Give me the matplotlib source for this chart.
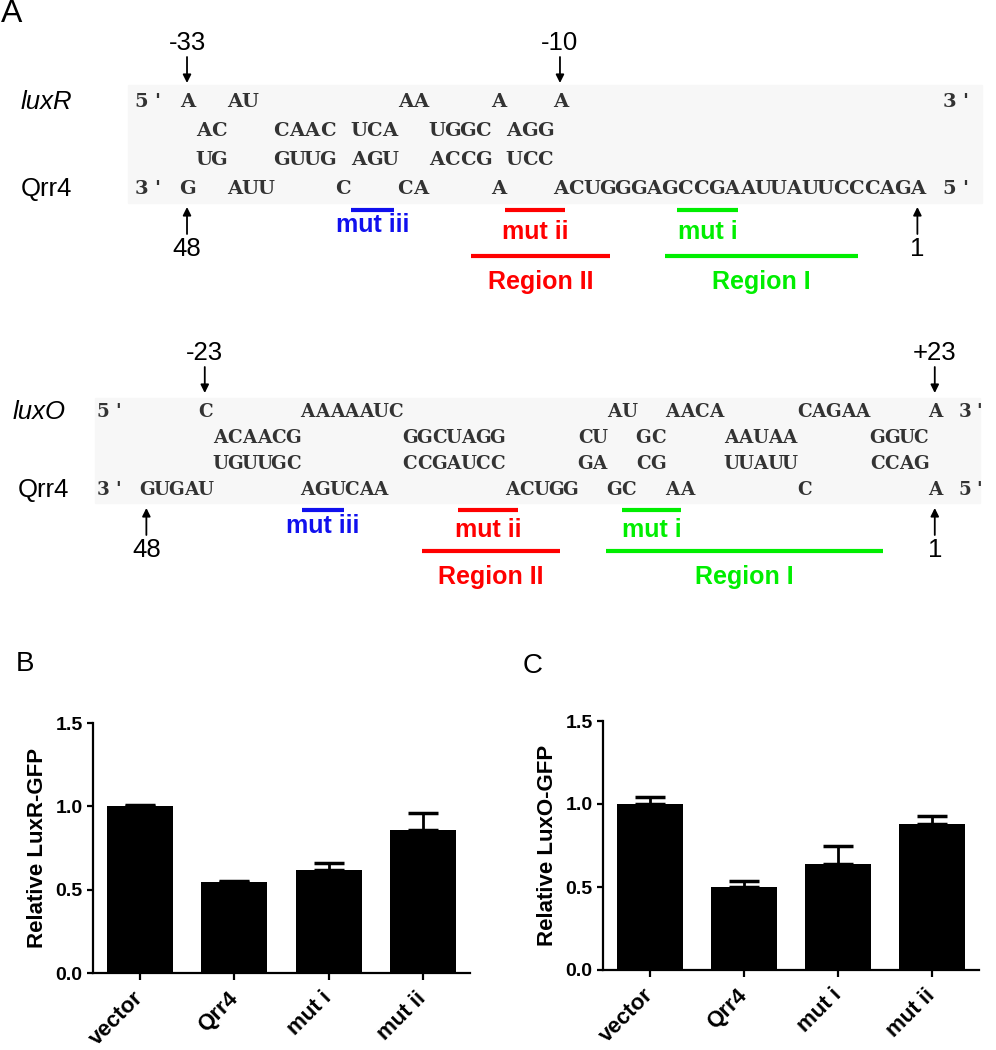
import numpy as np
import matplotlib.pyplot as plt
from matplotlib.patches import Rectangle
from matplotlib.transforms import ScaledTranslation

plt.rcParams['font.family'] = ['Liberation Sans', 'DejaVu Sans']

# ---- panel A data: pairing rows written as column-aligned strings
luxR_rows = [
    "5' A  AU         AA    A   A                        3'",
    "    AC   CAAC UCA  UGGC AGG",
    "    UG   GUUG AGU  ACCG UCC",
    "3' G  AUU    C   CA    A   ACUGGGAGCCGAAUUAUUCCCAGA 5'",
]
luxO_rows = [
    "5'     C      AAAAAUC              AU  AACA     CAGAA    A 3'",
    "        ACAACG       GGCUAGG     CU  GC    AAUAA     GGUC",
    "        UGUUGC       CCGAUCC     GA  CG    UUAUU     CCAG",
    "3' GUGAU      AGUCAA        ACUGG  GC  AA       C        A 5'",
]
# numbered positions: (label, column, above/below)
luxR_marks = [("-33", 3, "top"), ("-10", 27, "top"), ("48", 3, "bottom"), ("1", 50, "bottom")]
luxO_marks = [("-23", 7, "top"), ("+23", 57, "top"), ("48", 3, "bottom"), ("1", 57, "bottom")]

mut_names = ["mut iii", "mut ii", "mut i"]
region_names = ["Region II", "Region I"]
# spans in sequence columns
luxR_mut_cols = [(14.0, 16.8), (23.9, 27.8), (35.0, 38.9)]
luxR_region_cols = [(21.7, 30.7), (34.2, 46.6)]
luxO_mut_cols = [(14.1, 17.0), (24.8, 28.9), (36.0, 40.1)]
luxO_region_cols = [(22.3, 31.8), (34.9, 53.9)]

# ---- panels B and C data
groups = ["vector", "Qrr4", "mut i", "mut ii"]
luxR_gfp = [1.0, 0.545, 0.62, 0.86]
luxR_err = [0.01, 0.005, 0.04, 0.10]
luxO_gfp = [1.0, 0.497, 0.64, 0.877]
luxO_err = [0.045, 0.04, 0.11, 0.053]

mut_colors = ["#1010ee", "#ff0000", "#00ee00"]
region_colors = ["#ff0000", "#00ee00"]


def draw_duplex(ax, rows, names, marks, mut_cols, region_cols,
                x0, cw, ys, fs, bg, mut_y, mut_dy, region_y, label_x):
    ax.add_patch(Rectangle((bg[0], bg[1]), bg[2] - bg[0], bg[3] - bg[1],
                           color="#f7f7f7", zorder=0))
    # one glyph per column so a serif face can sit on a fixed grid
    for row, y in zip(rows, ys):
        for i, ch in enumerate(row):
            if ch != " ":
                ax.text(x0 + (i + 0.5) * cw, y, ch, family="DejaVu Serif",
                        fontsize=fs, weight="bold", color="#333333",
                        ha="center", va="center")
    ax.text(label_x[0], ys[0], names[0], fontsize=18.5, style="italic", va="center")
    ax.text(label_x[1], ys[3], names[1], fontsize=18.5, va="center")

    for lab, col, side in marks:
        x = x0 + (col + 0.45) * cw
        if side == "top":
            tail, tip, ty = ys[0] - 45, ys[0] - 19, ys[0] - 59
        else:
            tail, tip, ty = ys[3] + 45, ys[3] + 18, ys[3] + 60
        ax.annotate("", xy=(x, tip), xytext=(x, tail),
                    arrowprops=dict(arrowstyle="-|>", color="black", lw=1.3,
                                    mutation_scale=12, shrinkA=0, shrinkB=0))
        ax.text(x, ty, lab, fontsize=18.5, ha="center", va="center")

    for (c0, c1), name, color, dy in zip(mut_cols, mut_names, mut_colors, mut_dy):
        xa, xb = x0 + c0 * cw, x0 + c1 * cw
        ax.plot([xa, xb], [mut_y, mut_y], color=color, lw=3, solid_capstyle="butt")
        ax.text((xa + xb) / 2, mut_y + dy, name, color=color, fontsize=18,
                weight="bold", ha="center", va="center")
    for (c0, c1), name, color in zip(region_cols, region_names, region_colors):
        xa, xb = x0 + c0 * cw, x0 + c1 * cw
        ax.plot([xa, xb], [region_y, region_y], color=color, lw=3, solid_capstyle="butt")
        ax.text((xa + xb) / 2, region_y + 26, name, color=color, fontsize=18,
                weight="bold", ha="center", va="center")


def draw_bars(ax, vals, errs, ylabel):
    x = np.arange(len(groups))
    ax.bar(x, vals, width=0.7, color="black")
    ax.errorbar(x, vals, yerr=[np.zeros(len(vals)), errs], fmt="none",
                ecolor="black", elinewidth=2, capsize=10.5, capthick=2.5)
    ax.set_xlim(-0.5, 3.5)
    ax.set_ylim(0, 1.5)
    ax.set_yticks([0, 0.5, 1.0, 1.5])
    ax.set_yticklabels(["0.0", "0.5", "1.0", "1.5"], fontsize=14, fontweight="bold")
    ax.set_xticks(x)
    ax.set_xticklabels(groups, rotation=45, ha="right", va="center",
                       rotation_mode="anchor", fontsize=16, fontweight="bold")
    shift = ScaledTranslation(6 / 72, 0, fig.dpi_scale_trans)
    for lab in ax.get_xticklabels():
        lab.set_transform(lab.get_transform() + shift)
    ax.spines["top"].set_visible(False)
    ax.spines["right"].set_visible(False)
    ax.spines["left"].set_linewidth(1.6)
    ax.spines["bottom"].set_linewidth(1.6)
    ax.tick_params(axis="y", length=4.5, width=1.6, pad=3)
    ax.tick_params(axis="x", length=5, width=1.6, pad=11)
    ax.set_ylabel(ylabel, fontsize=16, fontweight="bold")
    ax.yaxis.set_label_coords(-0.12, 0.5)


fig = plt.figure(figsize=(9.96, 10.5), dpi=100)
ax0 = fig.add_axes([0, 0, 1, 1])
ax0.set_xlim(0, 996)
ax0.set_ylim(1050, 0)
ax0.axis("off")

draw_duplex(ax0, luxR_rows, ["luxR", "Qrr4"], luxR_marks, luxR_mut_cols, luxR_region_cols,
            x0=133.4, cw=15.54, ys=[102, 131, 160, 189], fs=14,
            bg=(128, 85, 982, 203), mut_y=210, mut_dy=[15, 22, 22], region_y=256,
            label_x=[21, 21])
draw_duplex(ax0, luxO_rows, ["luxO", "Qrr4"], luxO_marks, luxO_mut_cols, luxO_region_cols,
            x0=96, cw=14.6, ys=[412, 438, 464, 490], fs=13.2,
            bg=(95, 398, 980, 503), mut_y=510, mut_dy=[16, 20, 20], region_y=551,
            label_x=[13, 18])

ax0.text(12, 14, "A", fontsize=23, ha="center", va="center")
ax0.text(25, 664, "B", fontsize=20, ha="center", va="center")
ax0.text(533, 666, "C", fontsize=20, ha="center", va="center")

axB = fig.add_axes([93 / 996, 77 / 1050, 377 / 996, 250 / 1050])
draw_bars(axB, luxR_gfp, luxR_err, "Relative LuxR-GFP")
axC = fig.add_axes([603 / 996, 80 / 1050, 376 / 996, 249 / 1050])
draw_bars(axC, luxO_gfp, luxO_err, "Relative LuxO-GFP")

fig.savefig("out.png", dpi=100)
